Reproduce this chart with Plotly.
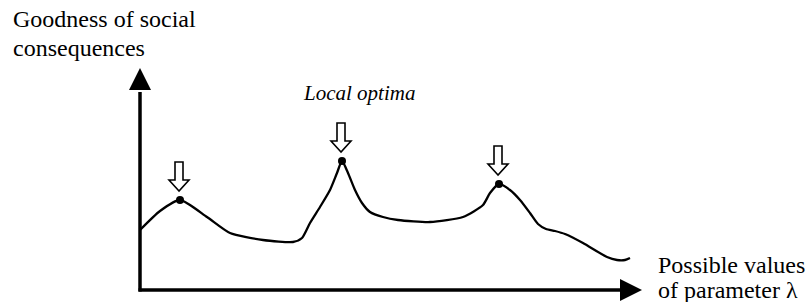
import plotly.graph_objects as go

# Curve: possible values of parameter lambda vs goodness of social consequences
# (units measured from the axis origin)
lam = [0, 20, 40, 67, 90, 123, 153, 162, 170, 180, 190, 197, 202,
       208, 215, 222, 230, 243, 258, 290, 323, 343, 350, 359,
       370, 380, 390, 398, 406, 415, 425, 443, 467, 477, 485, 490]
good = [60, 79, 90, 73, 57, 50, 48, 52, 67, 83, 100, 117, 129,
        117, 100, 87, 78, 73, 70, 68, 73, 85, 97, 106,
        100, 90, 77, 66, 61, 59, 56, 47, 33, 30, 30, 32]

# Local optima
opt_lam = [40, 202, 359]
opt_good = [90, 129, 106]

labels_y = ["Goodness of social", "consequences"]
labels_x = ["Possible values", "of parameter λ"]
optima_label = "Local optima"

FONT = "Liberation Serif, Times New Roman, serif"

fig = go.Figure()
fig.add_trace(go.Scatter(x=lam, y=good, mode="lines",
                         line=dict(color="black", width=2.3, shape="spline", smoothing=0.6),
                         hoverinfo="skip", showlegend=False))
fig.add_trace(go.Scatter(x=opt_lam, y=opt_good, mode="markers",
                         marker=dict(color="black", size=8),
                         hoverinfo="skip", showlegend=False))

shapes = []
# axes
shapes.append(dict(type="line", x0=0, y0=-1.5, x1=0, y1=198, line=dict(color="black", width=3.5)))
shapes.append(dict(type="path", path="M -11,200 L 11,200 L 0,222 Z", fillcolor="black",
                   line=dict(color="black", width=0)))
shapes.append(dict(type="line", x0=-1.5, y0=0, x1=482, y1=0, line=dict(color="black", width=3.5)))
shapes.append(dict(type="path", path="M 480,11 L 480,-11 L 502,0 Z", fillcolor="black",
                   line=dict(color="black", width=0)))
# hollow down arrows over each optimum
for xo, yo in zip(opt_lam, opt_good):
    xa = xo - 1
    tip = yo + 9
    hb = yo + 20
    top = yo + 38
    p = (f"M {xa},{tip} L {xa-10},{hb} L {xa-4},{hb} L {xa-4},{top} "
         f"L {xa+4},{top} L {xa+4},{hb} L {xa+10},{hb} Z")
    shapes.append(dict(type="path", path=p, fillcolor="white",
                       line=dict(color="black", width=1.6)))

annotations = [
    dict(x=-129, y=290 - 19, text=labels_y[0], xanchor="left", yanchor="middle"),
    dict(x=-129, y=290 - 48, text=labels_y[1], xanchor="left", yanchor="middle"),
    dict(x=516, y=290 - 265, text=labels_x[0], xanchor="left", yanchor="middle"),
    dict(x=516, y=290 - 290, text=labels_x[1], xanchor="left", yanchor="middle"),
]
for a in annotations:
    a.update(showarrow=False, font=dict(family=FONT, size=24, color="black"))
annotations.append(dict(x=219, y=290 - 93, text=f"<i>{optima_label}</i>", showarrow=False,
                        xanchor="center", yanchor="middle",
                        font=dict(family=FONT, size=21, color="black")))

fig.update_layout(
    width=806, height=302,
    margin=dict(l=0, r=0, t=0, b=0),
    paper_bgcolor="white", plot_bgcolor="white",
    xaxis=dict(range=[-140, 666], visible=False, fixedrange=True),
    yaxis=dict(range=[-12, 290], visible=False, fixedrange=True),
    shapes=shapes, annotations=annotations,
    showlegend=False,
)
fig.write_html("out.html", config={"displayModeBar": False},
               post_script="document.body.style.margin='0';document.body.style.overflow='hidden';")
